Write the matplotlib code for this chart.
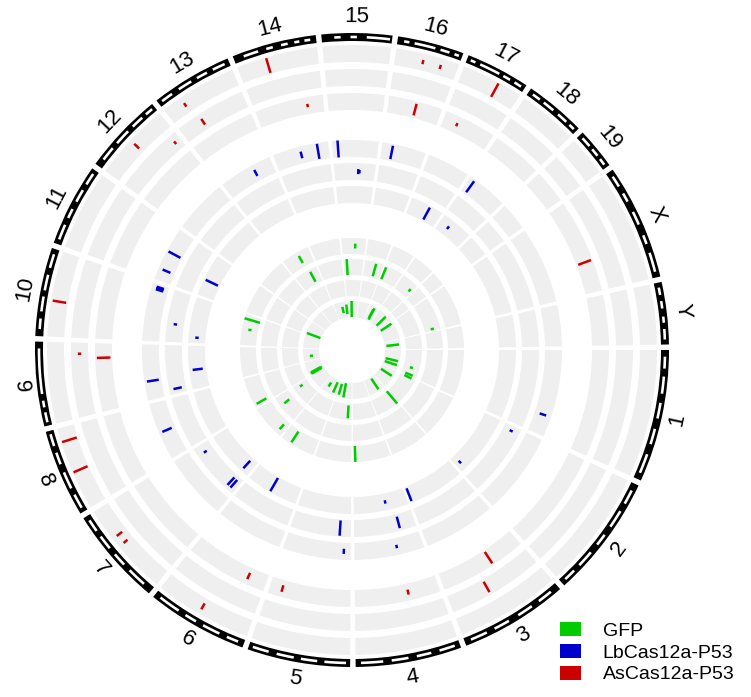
import numpy as np
import matplotlib.pyplot as plt
from matplotlib.patches import Patch

plt.rcParams['font.family'] = ['Liberation Sans', 'DejaVu Sans']

# mouse chromosomes (mm10, Mb)
chroms = ['1', '2', '3', '4', '5', '6', '7', '8', '9', '10', '11', '12', '13',
          '14', '15', '16', '17', '18', '19', 'X', 'Y']
chrom_len = [195.47, 182.11, 160.04, 156.51, 151.83, 149.74, 145.44, 129.40,
             124.60, 130.69, 122.08, 120.13, 120.42, 124.90, 104.04, 98.21,
             94.99, 90.70, 61.43, 171.03, 91.74]

# white stretches inside the ideogram, as fractions of each chromosome
ideo_white = {
    '1': [(0.05, 0.14), (0.20, 0.33), (0.40, 0.52), (0.60, 0.72), (0.80, 0.95)],
    '2': [(0.06, 0.18), (0.25, 0.40), (0.48, 0.58), (0.66, 0.80), (0.86, 0.96)],
    '3': [(0.08, 0.22), (0.30, 0.45), (0.55, 0.70), (0.78, 0.94)],
    '4': [(0.05, 0.20), (0.28, 0.42), (0.50, 0.66), (0.74, 0.95)],
    '5': [(0.04, 0.25), (0.32, 0.48), (0.55, 0.72), (0.80, 0.96)],
    '6': [(0.06, 0.18), (0.26, 0.44), (0.52, 0.64), (0.72, 0.94)],
    '7': [(0.10, 0.30), (0.38, 0.52), (0.60, 0.75), (0.82, 0.95)],
    '8': [(0.05, 0.22), (0.30, 0.50), (0.60, 0.74), (0.82, 0.96)],
    '9': [(0.04, 0.16), (0.22, 0.30), (0.38, 0.92)],
    '10': [(0.08, 0.20), (0.28, 0.45), (0.52, 0.70), (0.78, 0.94)],
    '11': [(0.06, 0.25), (0.34, 0.46), (0.56, 0.72), (0.80, 0.95)],
    '12': [(0.10, 0.28), (0.36, 0.56), (0.64, 0.80), (0.86, 0.96)],
    '13': [(0.05, 0.20), (0.30, 0.48), (0.56, 0.70), (0.78, 0.94)],
    '14': [(0.12, 0.30), (0.40, 0.48), (0.58, 0.66), (0.74, 0.80), (0.86, 0.93)],
    '15': [(0.18, 0.27), (0.41, 0.50), (0.64, 0.97)],
    '16': [(0.10, 0.18), (0.26, 0.58), (0.66, 0.80), (0.88, 0.95)],
    '17': [(0.06, 0.14), (0.22, 0.55), (0.62, 0.74), (0.82, 0.94)],
    '18': [(0.08, 0.22), (0.30, 0.50), (0.60, 0.78), (0.85, 0.95)],
    '19': [(0.10, 0.35), (0.45, 0.65), (0.75, 0.92)],
    'X': [(0.05, 0.15), (0.22, 0.30), (0.40, 0.52), (0.62, 0.70), (0.78, 0.95)],
    'Y': [(0.08, 0.20), (0.30, 0.42), (0.55, 0.65), (0.75, 0.92)],
}

# off-target hits: (chromosome, position Mb, replicate track, relative length)
gfp_hits = [
    ('15', 59, 1, 0.3), ('13', 69, 1, 0.5), ('10', 112, 1, 1.0), ('10', 69, 1, 0.2),
    ('8', 13, 1, 0.7), ('7', 21, 1, 0.4), ('6', 105, 1, 0.8), ('4', 148, 1, 1.0),
    ('15', 18, 2, 1.0), ('16', 59, 2, 0.8), ('17', 7, 2, 0.8), ('13', 80, 2, 0.7),
    ('18', 77, 2, 0.2), ('X', 161, 2, 0.2), ('7', 96, 2, 0.4),
    ('1', 133, 3, 0.2), ('1', 185, 3, 0.5), ('2', 2, 3, 0.5), ('3', 7, 3, 1.0),
    ('5', 26, 3, 0.8), ('7', 121, 3, 0.2),
    ('11', 7, 4, 0.9), ('9', 47, 4, 0.2), ('8', 5, 4, 0.7), ('8', 12, 4, 0.8),
    ('8', 20, 4, 0.7), ('6', 100, 4, 0.3), ('6', 30, 4, 0.7), ('5', 130, 4, 0.7),
    ('5', 80, 4, 0.9), ('3', 57, 4, 0.8), ('2', 62, 4, 0.8), ('1', 110, 4, 0.8),
    ('1', 150, 4, 0.8), ('Y', 46, 4, 0.8), ('17', 50, 4, 0.6), ('17', 55, 4, 0.8),
    ('18', 88, 4, 0.8), ('X', 8, 4, 0.8), ('14', 76, 4, 0.4), ('14', 120, 4, 0.6),
    ('15', 41, 4, 1.0),
]
lb_hits = [
    ('15', 13, 1, 1.0), ('14', 100, 1, 0.9), ('14', 61, 1, 0.4), ('16', 24, 1, 0.8),
    ('13', 77, 1, 0.4), ('18', 12, 1, 0.8), ('11', 68, 1, 0.8), ('11', 26, 1, 0.5),
    ('10', 118, 1, 0.45), ('10', 121, 1, 0.45), ('10', 124, 1, 0.45),
    ('9', 42, 1, 0.7), ('8', 62, 1, 0.6), ('5', 16, 1, 0.3), ('4', 59, 1, 0.2),
    ('1', 150, 1, 0.4),
    ('15', 61, 2, 0.3), ('15', 64, 2, 0.2), ('10', 46, 2, 0.2), ('9', 13, 2, 0.5),
    ('7', 124, 2, 0.2), ('7', 13, 2, 0.6), ('7', 23, 2, 0.6), ('5', 28, 2, 0.9),
    ('4', 41, 2, 0.7), ('2', 13, 2, 0.2),
    ('17', 57, 3, 0.8), ('18', 30, 3, 0.2), ('11', 47, 3, 0.8), ('10', 16, 3, 0.2),
    ('9', 55, 3, 0.6), ('7', 22, 3, 0.6), ('6', 79, 3, 0.9), ('4', 63, 3, 0.2),
    ('3', 157, 3, 0.8), ('2', 167, 3, 0.2),
]
as_hits = [
    ('14', 46, 1, 0.9), ('16', 44, 1, 0.25), ('16', 72, 1, 0.25), ('17', 58, 1, 0.9),
    ('13', 31, 1, 0.25), ('12', 60, 1, 0.4), ('10', 55, 1, 0.8), ('8', 108, 1, 0.9),
    ('8', 59, 1, 0.9), ('7', 95, 1, 0.4), ('7', 80, 1, 0.3), ('6', 80, 1, 0.4),
    ('13', 40, 2, 0.4), ('12', 109, 2, 0.2), ('9', 106, 2, 0.2), ('3', 92, 2, 0.7),
    ('14', 95, 3, 0.2), ('16', 51, 3, 0.7), ('17', 27, 3, 0.2), ('9', 98, 3, 0.8),
    ('6', 35, 3, 0.4), ('5', 128, 3, 0.4), ('4', 57, 3, 0.3), ('3', 62, 3, 0.8),
    ('X', 113, 3, 0.8),
]

samples = ['GFP', 'LbCas12a-P53', 'AsCas12a-P53']
colors = ['#00CC00', '#0000CC', '#CC0000']

# track radii (inner, outer) for each replicate, outermost first
gfp_tracks = [(96, 112), (75, 91), (54, 70), (33, 49)]
lb_tracks = [(193, 210), (170, 187), (147, 164)]
as_tracks = [(288, 305), (264, 281), (240, 257)]
ideo_r = (309, 317)

# angular layout: clockwise from 3 o'clock, 1 degree gap after each chromosome
gap = 1.0
scale = (360 - gap * len(chroms)) / sum(chrom_len)
start = {}
a = 0.0
for c, L in zip(chroms, chrom_len):
    start[c] = a
    a += L * scale + gap
size = dict(zip(chroms, chrom_len))


def theta(c, pos):
    return np.deg2rad(start[c] + pos * scale)


W, H = 751, 697
R = 340
cx, cy = 352, 350
fig = plt.figure(figsize=(W / 100, H / 100), dpi=100)
ax = fig.add_axes([(cx - R) / W, (H - cy - R) / H, 2 * R / W, 2 * R / H],
                  projection='polar')
ax.set_theta_zero_location('E')
ax.set_theta_direction(-1)
ax.set_ylim(0, R)
ax.set_axis_off()

all_tracks = gfp_tracks + lb_tracks + as_tracks
for c in chroms:
    t0 = theta(c, 0)
    span = np.deg2rad(size[c] * scale)
    for r0, r1 in all_tracks:
        ax.bar(t0, r1 - r0, width=span, bottom=r0, align='edge',
               color='#EFEFEF', edgecolor='none')
    # ideogram
    ax.bar(t0, ideo_r[1] - ideo_r[0], width=span, bottom=ideo_r[0],
           align='edge', color='black', edgecolor='none')
    for f0, f1 in ideo_white[c]:
        ax.bar(theta(c, f0 * size[c]), 2.6, width=np.deg2rad((f1 - f0) * size[c] * scale),
               bottom=ideo_r[0] + 2.7, align='edge', color='white', edgecolor='none')
    # chromosome label
    mid = start[c] + size[c] * scale / 2
    phi = -mid
    rot = phi - 90 if np.sin(np.deg2rad(phi)) > 0 else phi + 90
    ax.text(np.deg2rad(mid), 333, c, rotation=rot, rotation_mode='anchor',
            ha='center', va='center', fontsize=16)

for hits, tracks, col in zip([gfp_hits, lb_hits, as_hits],
                             [gfp_tracks, lb_tracks, as_tracks], colors):
    for c, pos, trk, ln in hits:
        r0, r1 = tracks[trk - 1]
        rc = (r0 + r1) / 2
        h = (r1 - r0) * ln / 2
        t = theta(c, pos)
        ax.plot([t, t], [rc - h, rc + h], color=col, lw=1.8, solid_capstyle='butt')

handles = [Patch(facecolor=col, edgecolor='none') for col in colors]
fig.legend(handles, samples, loc='upper left', bbox_to_anchor=(560 / W, 1 - 622 / H),
           frameon=False, fontsize=14, handlelength=1.1, handleheight=0.75,
           labelspacing=0.2, handletextpad=1.1, borderpad=0, borderaxespad=0)

fig.savefig('out.png', dpi=100)
